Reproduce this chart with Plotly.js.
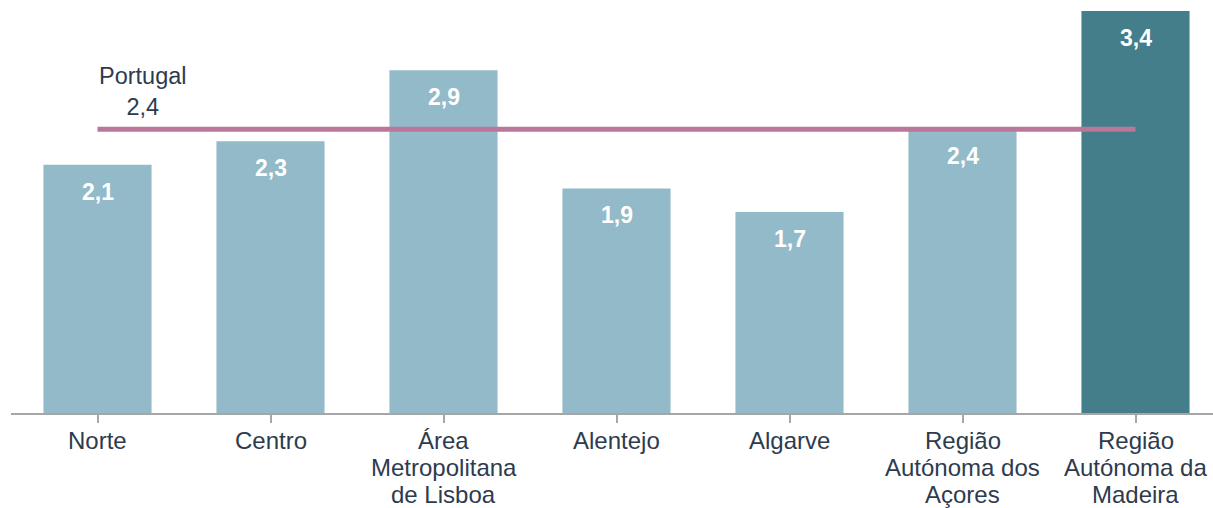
<!DOCTYPE html>
<html><head><meta charset="utf-8">
<script src="https://cdn.plot.ly/plotly-3.0.1.min.js"></script>
<style>html,body{margin:0;padding:0;background:#fff}</style>
</head><body><div id="chart" style="width:1213px;height:508px"></div>
<script>
const categories = ["Norte", "Centro", "Área<br>Metropolitana<br>de Lisboa", "Alentejo", "Algarve", "Região<br>Autónoma dos<br>Açores", "Região<br>Autónoma da<br>Madeira"];
const values = [2.1, 2.3, 2.9, 1.9, 1.7, 2.4, 3.4];
const valueLabels = ["2,1", "2,3", "2,9", "1,9", "1,7", "2,4", "3,4"];
const portugalValue = 2.4;
const portugalLabel = "Portugal<br>2,4";

const light = "#93BAC8", dark = "#437E8A";
const barColors = values.map((v, i) => i === values.length - 1 ? dark : light);
const xIdx = categories.map((c, i) => i);
const FONT = "Liberation Sans, Arial, sans-serif";
const TEXT = "#2E3B4E";

const bars = {
  type: "bar", x: xIdx, y: values, width: 0.625,
  marker: {color: barColors, line: {width: 0}},
  hoverinfo: "skip", showlegend: false
};
const line = {
  type: "scatter", mode: "lines", x: xIdx, y: xIdx.map(() => portugalValue),
  line: {color: "#B97799", width: 5},
  hoverinfo: "skip", showlegend: false
};

const annotations = values.map((v, i) => ({
  x: i, y: v, xref: "x", yref: "y", text: "<b>" + valueLabels[i] + "</b>",
  showarrow: false, yanchor: "middle", yshift: -27,
  font: {family: FONT, size: 23, color: "#FFFFFF"}
}));
annotations.push({
  x: 0.263, y: portugalValue, xref: "x", yref: "y", text: portugalLabel,
  showarrow: false, yanchor: "bottom", yshift: 7, align: "center",
  font: {family: FONT, size: 23.5, color: TEXT}
});
// category labels, one line each (tighter line spacing than Plotly's default)
categories.forEach((c, i) => {
  c.split("<br>").forEach((ln, k) => {
    annotations.push({
      x: i, y: 0, xref: "x", yref: "paper", text: ln,
      showarrow: false, yanchor: "middle", yshift: -27 - 27 * k,
      font: {family: FONT, size: 24, color: TEXT}
    });
  });
});

const layout = {
  width: 1213, height: 508,
  margin: {l: 11, r: 0, t: 0, b: 95},
  paper_bgcolor: "#FFFFFF", plot_bgcolor: "#FFFFFF",
  xaxis: {
    range: [-0.5, 6.448], tickmode: "array", tickvals: xIdx, ticktext: categories,
    showticklabels: false,
    tickson: "boundaries", ticks: "outside", ticklen: 8, tickwidth: 2, tickcolor: "#A6A6A6",
    showline: true, linecolor: "#A6A6A6", linewidth: 2, showgrid: false, zeroline: false,
    fixedrange: true
  },
  yaxis: {range: [0, 3.494], visible: false, showgrid: false, zeroline: false, fixedrange: true},
  annotations: annotations,
  bargap: 0.375
};
Plotly.newPlot("chart", [bars, line], layout, {displayModeBar: false, staticPlot: true});
</script></body></html>
